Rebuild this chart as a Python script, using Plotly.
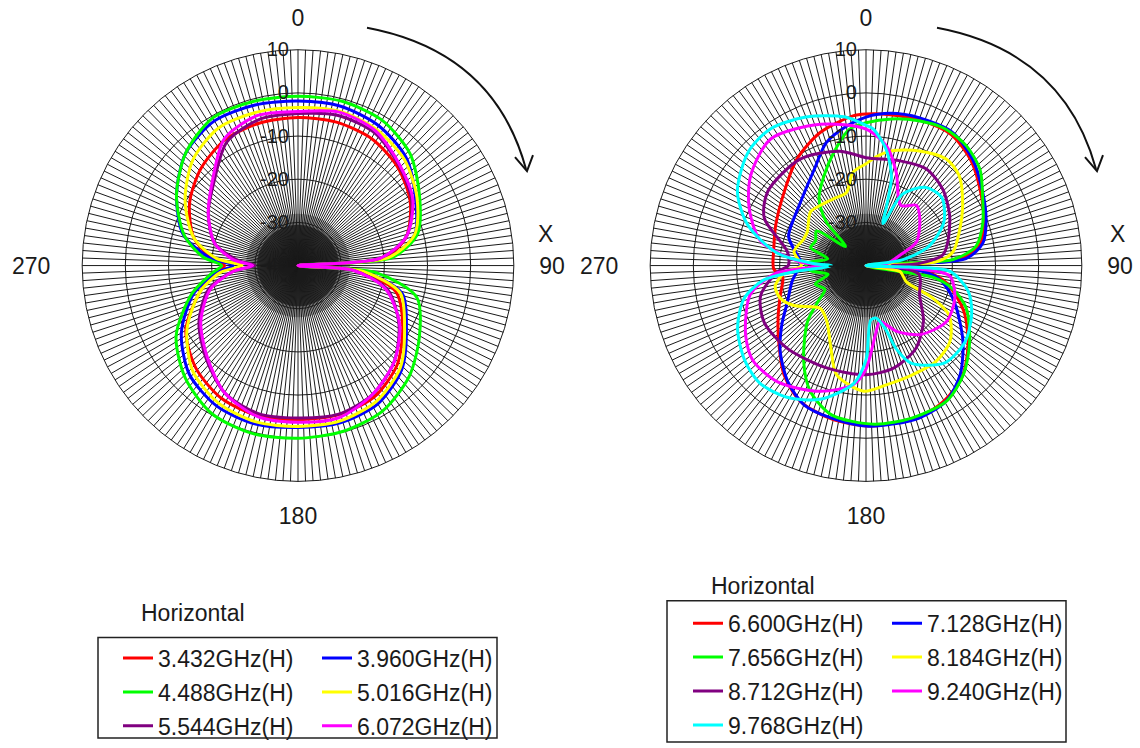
import plotly.graph_objects as go

W, H = 1140, 748

# ---------------- Left chart data (dB vs angle, deg) ----------------
theta_left = [0, 15, 30, 45, 60, 75, 85, 90, 95, 105, 120, 135, 150, 165, 180,
              195, 210, 225, 240, 255, 265, 270, 275, 285, 300, 315, 330, 345, 360]
r_3432 = [-5.7, -5.6, -6.0, -7.5, -10.0, -14.0, -20.0, -40, -26.0, -16.5, -12.0, -7.5, -4.8, -4.2, -4.3,
          -4.0, -4.5, -6.5, -10.0, -16.5, -21.0, -23.0, -20.0, -15.0, -11.0, -8.2, -6.3, -5.8, -5.7]
r_3960 = [-1.9, -1.8, -2.6, -4.6, -8.6, -12.0, -19.0, -40, -25.0, -15.0, -11.0, -6.0, -3.0, -2.3, -2.5,
          -2.0, -2.4, -4.4, -8.8, -15.0, -21.0, -25.0, -19.5, -12.5, -7.5, -3.2, -1.3, -1.5, -1.9]
r_4488 = [-0.8, -0.6, -1.1, -3.3, -7.5, -11.3, -18.0, -40, -22.0, -11.5, -7.5, -3.6, -1.0, -0.2, 0.0,
          0.3, -0.3, -3.1, -7.4, -14.5, -20.0, -22.3, -18.0, -12.7, -7.5, -3.2, -0.5, -0.6, -0.8]
r_5016 = [-3.4, -3.0, -3.6, -5.2, -8.2, -12.0, -19.0, -40, -25.0, -15.5, -11.5, -6.5, -3.7, -2.7, -2.7,
          -2.5, -3.2, -5.5, -10.3, -16.5, -22.0, -27.0, -21.0, -15.0, -9.8, -5.5, -3.2, -3.2, -3.4]
r_5544 = [-4.8, -4.0, -4.5, -7.0, -9.6, -14.0, -21.0, -40, -27.0, -18.5, -13.0, -8.5, -5.5, -4.3, -4.7,
          -4.5, -6.0, -9.8, -13.5, -18.5, -25.0, -30.0, -26.0, -20.0, -16.0, -12.5, -7.0, -5.0, -4.8]
r_6072 = [-4.3, -3.2, -4.0, -6.8, -9.3, -14.0, -21.0, -40, -27.0, -19.0, -12.8, -8.5, -5.5, -3.5, -3.7,
          -3.8, -6.0, -10.2, -14.0, -19.0, -25.0, -29.5, -25.0, -20.0, -16.0, -12.0, -6.0, -4.0, -4.3]

# ---------------- Right chart data ----------------
t_6600 = [0, 9, 20, 33, 45, 58, 69, 79, 86, 90, 95, 102, 115, 128, 139, 150, 160, 178, 193, 206,
          217, 229, 240, 251, 262, 268, 280, 294, 312, 327, 341, 355, 360]
r_6600 = [-4.9, -4.6, -4.1, -3.8, -5.6, -8.6, -10.8, -13.0, -18.0, -40, -27.0, -21.0, -15.0, -10.0, -6.0,
          -3.8, -3.0, -2.8, -3.6, -5.1, -8.4, -13.2, -16.5, -19.0, -20.5, -18.6, -18.3, -17.1, -14.5, -10.6,
          -7.4, -5.2, -4.9]
t_7128 = [0, 9, 20, 33, 45, 58, 69, 79, 86, 90, 95, 100, 108, 115, 128, 139, 149, 161, 179, 193,
          204, 214, 225, 235, 245, 258, 273, 283, 291, 314, 332, 342, 352, 360]
r_7128 = [-5.6, -4.3, -3.6, -3.2, -5.1, -8.1, -10.2, -12.4, -16.8, -40, -28.0, -23.0, -19.5, -16.9, -11.5,
          -6.7, -3.6, -2.6, -2.8, -3.8, -4.7, -7.6, -11.9, -16.2, -19.9, -22.5, -24.8, -22.8, -20.8, -18.9,
          -14.6, -10.1, -7.4, -5.6]
t_7656 = [0, 10, 20, 30, 40, 50, 59, 70, 80, 86, 90, 100, 105, 113, 126, 138, 149, 163, 177, 193,
          204, 213, 226, 233, 240, 250, 257, 265, 272, 280, 288, 296, 305, 313, 318, 325, 335, 344, 353, 360]
r_7656 = [-6.9, -5.5, -4.3, -3.4, -3.8, -5.5, -8.5, -11.2, -14.1, -19.8, -40, -24.0, -19.2, -14.8, -10.3,
          -6.2, -3.5, -3.1, -3.2, -4.5, -8.2, -13.5, -21.1, -26.0, -29.0, -27.5, -31.0, -27.0, -26.0, -31.0,
          -26.5, -27.0, -26.0, -33.5, -26.0, -21.0, -17.0, -12.8, -8.2, -6.9]
t_8184 = [0, 6, 13, 25, 37, 46, 58, 70, 81, 87, 90, 100, 112, 116, 121, 132, 144, 157, 170, 181,
          195, 203, 215, 227, 241, 249, 257, 265, 270, 281, 293, 300, 314, 323, 334, 345, 352, 360]
r_8184 = [-16.4, -14.5, -12.7, -10.7, -9.1, -10.0, -13.6, -17.0, -19.6, -23.7, -40, -32.0, -29.9, -22.7,
          -17.5, -13.8, -12.5, -12.5, -12.0, -10.9, -13.8, -19.2, -24.2, -25.5, -20.9, -18.8, -18.4, -21.0,
          -25.0, -23.0, -24.3, -24.3, -22.1, -22.5, -22.8, -22.5, -18.2, -16.4]
t_8712 = [0, 18, 32, 45, 59, 74, 82, 88, 90, 95, 100, 119, 134, 149, 165, 180, 201, 224, 241, 254,
          266, 270, 280, 295, 307, 328, 347, 360]
r_8712 = [-15.0, -14.5, -13.6, -14.9, -17.4, -20.3, -22.0, -28.0, -34.0, -30.0, -27.4, -25.8, -21.5, -17.6,
          -15.4, -14.7, -14.6, -13.5, -13.0, -14.6, -19.4, -22.0, -21.5, -14.0, -11.5, -11.0, -12.8, -15.0]
t_9240 = [0, 10, 18, 30, 40, 49, 65, 73, 84, 90, 93, 97, 110, 125, 142, 155, 166, 172, 180, 186,
          200, 217, 230, 240, 256, 265, 270, 273, 283, 296, 308, 323, 342, 360]
r_9240 = [-8.4, -12.0, -17.3, -23.9, -21.8, -23.5, -27.1, -31.8, -35.0, -40, -30.0, -20.5, -18.1, -17.3,
          -19.7, -23.2, -26.6, -24.0, -16.0, -12.3, -9.0, -6.2, -5.8, -7.8, -12.4, -19.0, -30.0, -24.8,
          -15.0, -9.9, -6.1, -3.3, -5.6, -8.4]
t_9768 = [0, 3, 10, 16, 19, 22, 27, 37, 48, 61, 73, 81, 90, 92, 94, 104, 115, 128, 141, 155,
          160, 163, 169, 175, 180, 186, 199, 211, 222, 232, 244, 255, 262, 265, 268, 270, 272, 278, 289, 300,
          314, 325, 338, 352, 360]
r_9768 = [-7.5, -8.3, -12.8, -18.6, -25.2, -29.5, -21.5, -17.3, -16.4, -19.4, -24.8, -31.5, -40, -30.0,
          -20.5, -15.6, -13.0, -11.0, -11.0, -15.0, -19.4, -24.7, -27.6, -27.3, -18.2, -12.5, -7.25, -4.4,
          -3.3, -4.35, -6.9, -10.8, -16.1, -23.1, -30.8, -32.0, -28.0, -19.2, -11.0, -5.6, -2.1, -1.35,
          -2.9, -5.25, -7.5]

radial_ticks = [-40, -30, -20, -10, 0, 10]
radial_labels = ['-40\u00a0', '-30\u00a0', '-20\u00a0', '-10\u00a0', '0\u00a0', '10\u00a0']
angle_grid = list(range(0, 360, 2))
angle_labels = {0: '0', 90: '\u00a090', 180: '180', 270: '270\u00a0\u00a0'}

RED, BLUE, GREEN, YELLOW = '#ff0000', '#0000ff', '#00ff00', '#ffff00'
PURPLE, MAGENTA, CYAN = '#800080', '#ff00ff', '#00ffff'

left_series = [
    ('3.432GHz(H)', RED, theta_left, r_3432, 'legend'),
    ('3.960GHz(H)', BLUE, theta_left, r_3960, 'legend2'),
    ('4.488GHz(H)', GREEN, theta_left, r_4488, 'legend'),
    ('5.016GHz(H)', YELLOW, theta_left, r_5016, 'legend2'),
    ('5.544GHz(H)', PURPLE, theta_left, r_5544, 'legend'),
    ('6.072GHz(H)', MAGENTA, theta_left, r_6072, 'legend2'),
]
right_series = [
    ('6.600GHz(H)', RED, t_6600, r_6600, 'legend3'),
    ('7.128GHz(H)', BLUE, t_7128, r_7128, 'legend4'),
    ('7.656GHz(H)', GREEN, t_7656, r_7656, 'legend3'),
    ('8.184GHz(H)', YELLOW, t_8184, r_8184, 'legend4'),
    ('8.712GHz(H)', PURPLE, t_8712, r_8712, 'legend3'),
    ('9.240GHz(H)', MAGENTA, t_9240, r_9240, 'legend4'),
    ('9.768GHz(H)', CYAN, t_9768, r_9768, 'legend3'),
]

FONT = 'Liberation Sans, Arial, sans-serif'
TXT = '#1a1a1a'

fig = go.Figure()
for sub, series in (('polar', left_series), ('polar2', right_series)):
    for name, color, th, rr, leg in series:
        fig.add_trace(go.Scatterpolar(
            theta=th, r=rr, mode='lines', name=name, subplot=sub, legend=leg,
            legendgroup=name,
            line=dict(color=color, width=3, shape='spline', smoothing=0.8),
            hoverinfo='skip'))

CY = 267
R = 217
CENTERS = (298, 866)


def polar_layout(cx):
    return dict(
        domain=dict(x=[(cx - R) / W, (cx + R) / W], y=[1 - (CY + R) / H, 1 - (CY - R) / H]),
        bgcolor='rgba(0,0,0,0)',
        angularaxis=dict(
            rotation=90, direction='clockwise',
            tickmode='array', tickvals=angle_grid,
            ticktext=[angle_labels.get(a, '') for a in angle_grid],
            showgrid=True, gridcolor='#1a1a1a', gridwidth=1,
            showline=True, linecolor='#1a1a1a', linewidth=1,
            ticks='outside', ticklen=14, tickcolor='rgba(0,0,0,0)',
            tickfont=dict(family=FONT, size=23, color=TXT)),
        radialaxis=dict(
            range=[-40, 10], tickmode='array', tickvals=radial_ticks, ticktext=radial_labels,
            angle=90, side='counterclockwise', showline=False,
            showgrid=True, gridcolor='#1a1a1a', gridwidth=1, ticks='',
            tickangle=90,
            tickfont=dict(family=FONT, size=20, color=TXT)),
    )


def P(x, y):
    return f'{x / W:.5f},{1 - y / H:.5f}'


shapes = []
for cx in CENTERS:
    # dense-spoke dark core of the grid
    for rad, op in ((52, 0.4), (41, 1.0)):
        shapes.append(dict(type='circle', xref='paper', yref='paper', layer='below',
                           x0=(cx - rad) / W, x1=(cx + rad) / W,
                           y0=1 - (CY + rad) / H, y1=1 - (CY - rad) / H,
                           fillcolor='#3a3a3a', opacity=op, line=dict(width=0)))
for dx in (0, 570):
    shapes.append(dict(type='path', xref='paper', yref='paper',
                       path=f'M {P(367 + dx, 28)} Q {P(494 + dx, 52)} {P(526 + dx, 170)}',
                       line=dict(color='#111', width=2)))
    shapes.append(dict(type='path', xref='paper', yref='paper',
                       path=f'M {P(515 + dx, 158)} L {P(527 + dx, 172)} L {P(533 + dx, 156)}',
                       line=dict(color='#111', width=2)))
# legend frames
shapes.append(dict(type='rect', xref='paper', yref='paper', x0=98 / W, x1=497 / W,
                   y0=1 - 742 / H, y1=1 - 641 / H, line=dict(color='#222', width=1.5)))
shapes.append(dict(type='rect', xref='paper', yref='paper', x0=667 / W, x1=1066 / W,
                   y0=1 - 746 / H, y1=1 - 604 / H, line=dict(color='#222', width=1.5)))


def ann(text, x, y):
    return dict(text=text, x=x / W, y=1 - y / H, xref='paper', yref='paper', showarrow=False,
                xanchor='center', yanchor='middle', font=dict(family=FONT, size=23, color=TXT))


annotations = [ann('X', 545, 235), ann('X', 1117, 235),
               ann('Horizontal', 193, 616), ann('Horizontal', 763, 589)]


def legend_at(xpx, ytop):
    return dict(x=xpx / W, y=1 - ytop / H, xanchor='left', yanchor='top', orientation='v',
                bgcolor='rgba(0,0,0,0)', borderwidth=0, traceorder='grouped', tracegroupgap=1,
                font=dict(family=FONT, size=23, color=TXT))


fig.update_layout(
    width=W, height=H, margin=dict(l=0, r=0, t=0, b=0),
    paper_bgcolor='white', plot_bgcolor='white',
    polar=polar_layout(CENTERS[0]), polar2=polar_layout(CENTERS[1]),
    shapes=shapes, annotations=annotations,
    legend=legend_at(118, 640), legend2=legend_at(317, 640),
    legend3=legend_at(688, 605), legend4=legend_at(887, 605),
)

fig.write_html('out.html', config={'displayModeBar': False},
               post_script="document.body.style.margin='0px';")
